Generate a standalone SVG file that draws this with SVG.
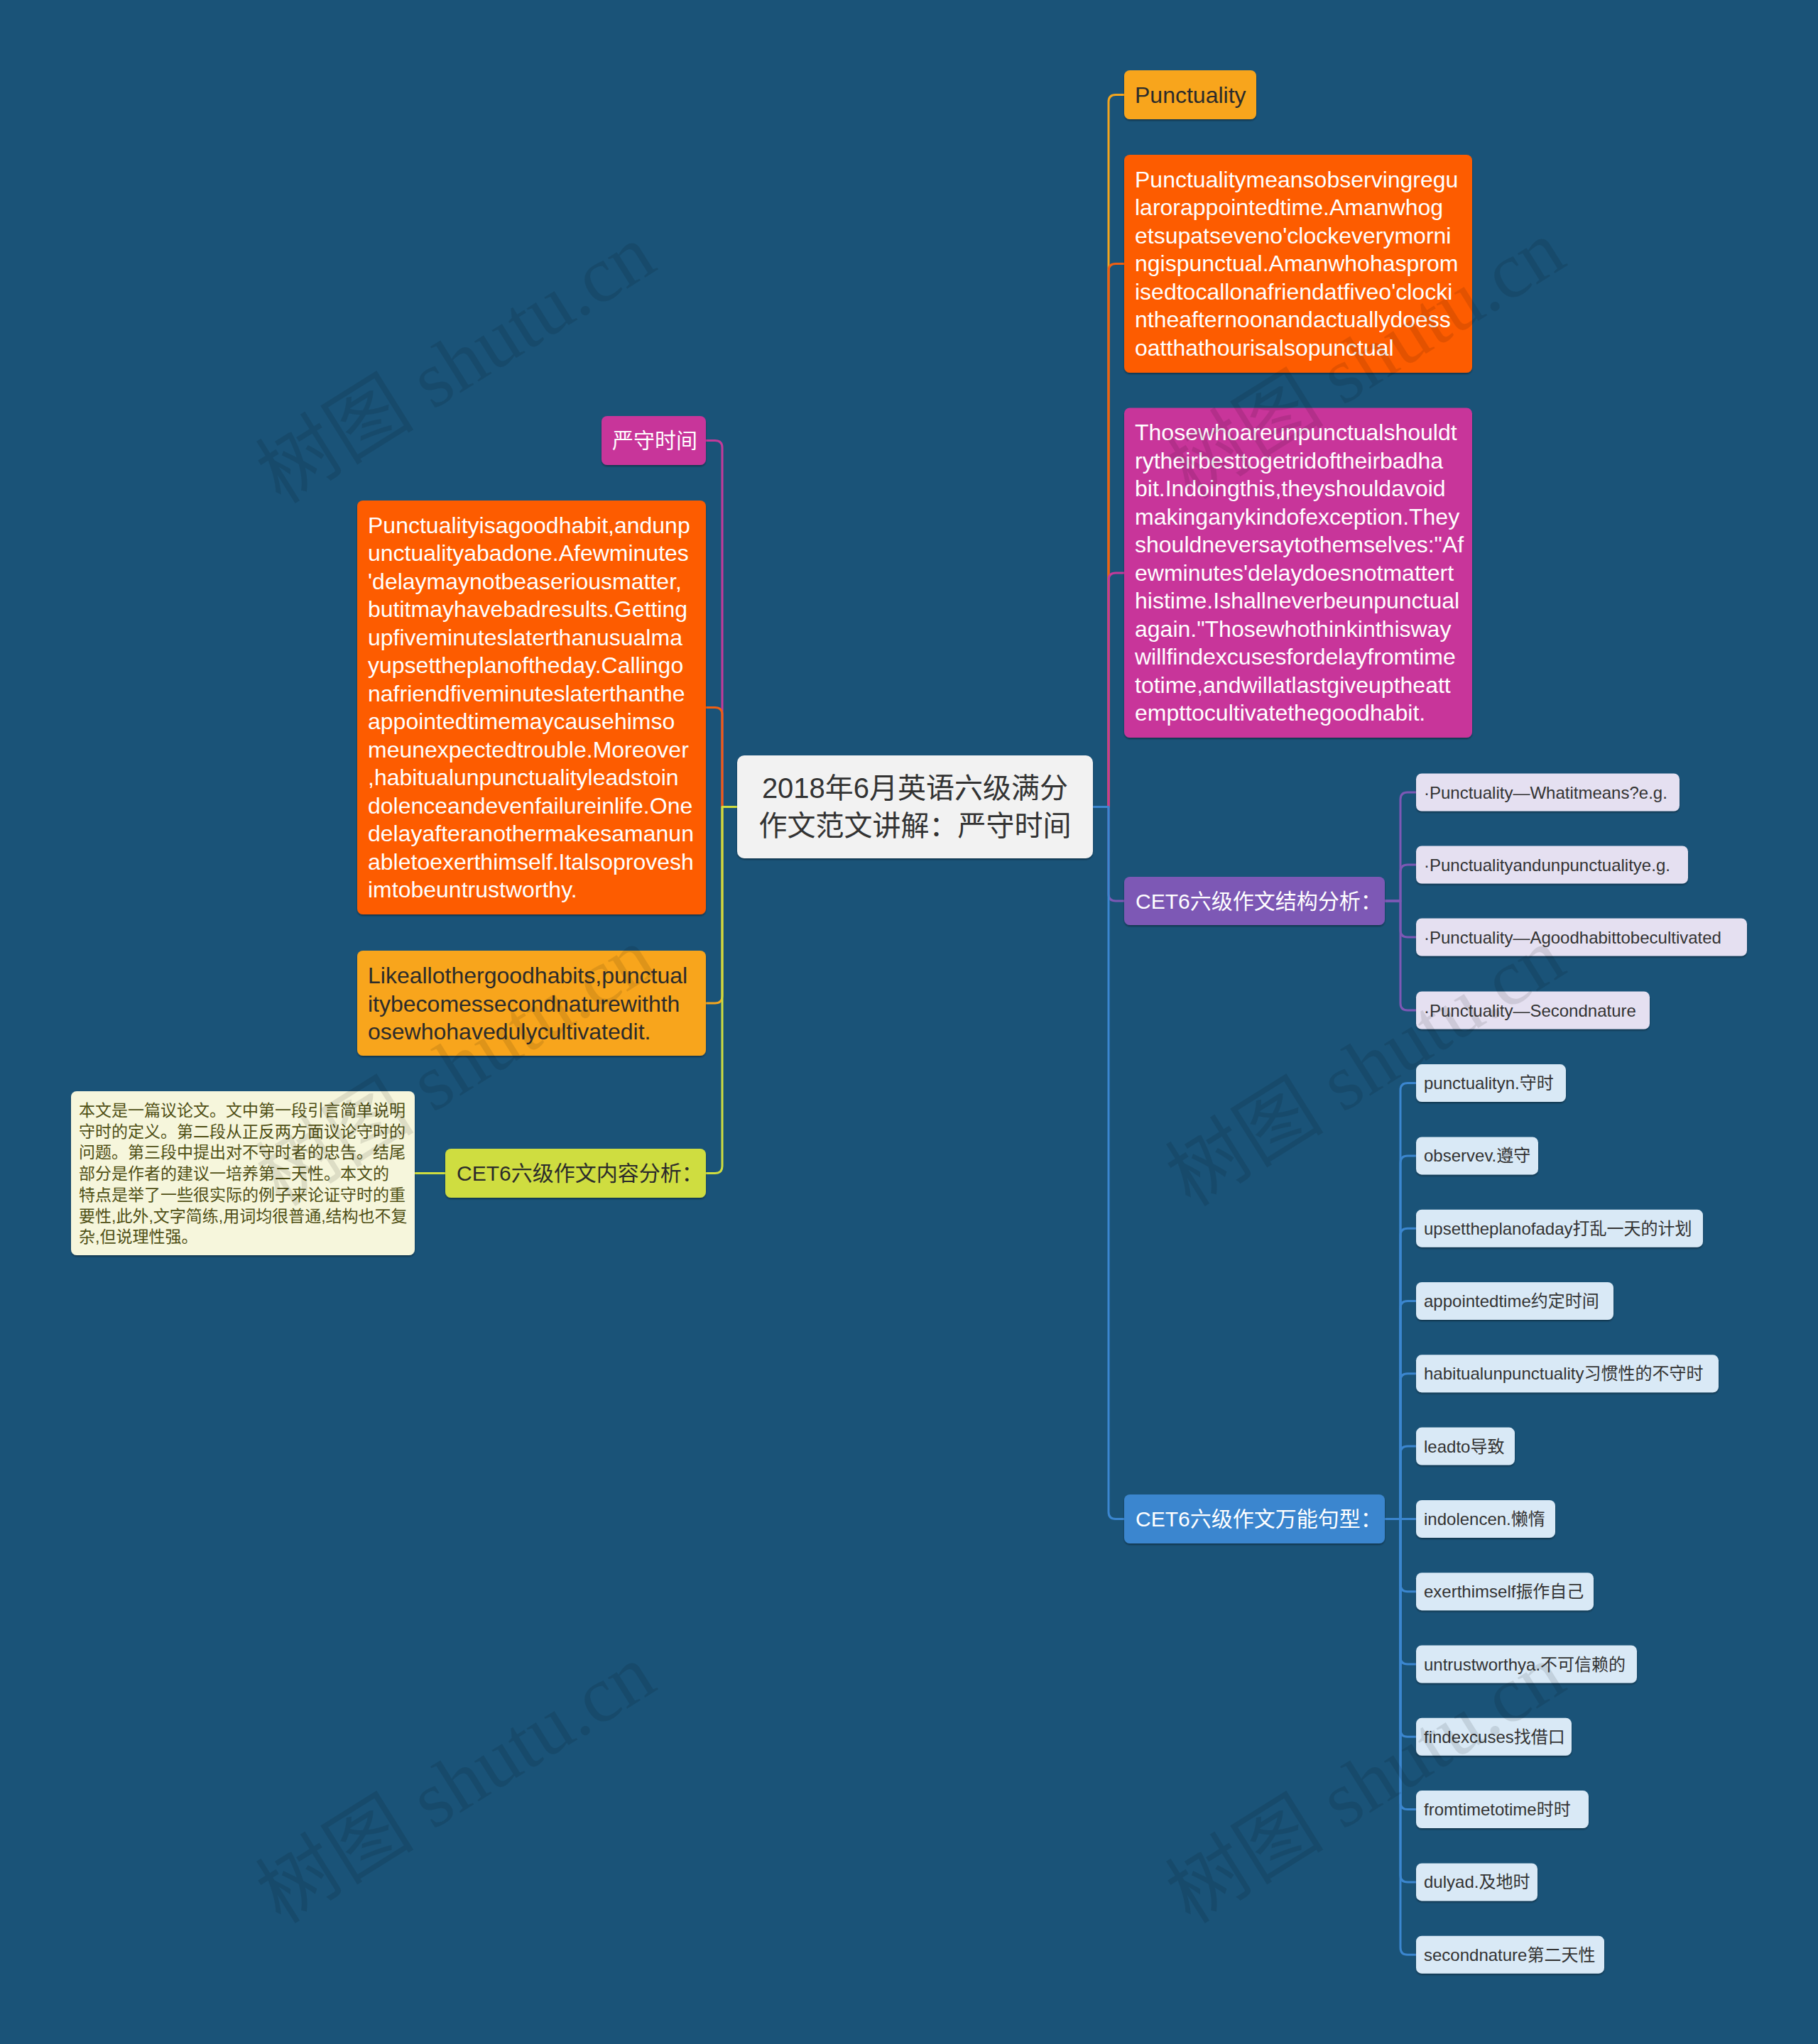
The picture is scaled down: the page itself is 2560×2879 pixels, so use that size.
<svg xmlns="http://www.w3.org/2000/svg" width="2560" height="2879" viewBox="0 0 2560 2879">
<defs>
<filter id="sh" x="-5%" y="-10%" width="110%" height="130%">
<feDropShadow dx="0" dy="2" stdDeviation="1.2" flood-color="#000" flood-opacity="0.35"/>
</filter>
<style>
.t{font-family:"Liberation Sans","Noto Sans CJK SC",sans-serif;dominant-baseline:central;}
.c{fill:none;stroke-width:3;stroke-linejoin:round;stroke-linecap:round;}
.wm{font-family:"Liberation Serif","Noto Sans CJK SC",serif;font-size:112px;fill:#000;fill-opacity:0.1;text-anchor:middle;}
.para{font-size:32px;}
.sm{font-size:24px;fill:#333;}
.h30{font-size:30px;}
.note{font-size:23px;fill:#4f4f14;}
</style>
</defs>
<rect x="0" y="0" width="2560" height="2879" fill="#1a5378"/>

<g id="connectors">
<path class="c" stroke="#f3a51f" d="M1539 1136.5 H1561 V143.5 Q1561 133.5 1571 133.5 H1583"/>
<path class="c" stroke="#f05f12" d="M1539 1136.5 H1561 V381.5 Q1561 371.5 1571 371.5 H1583"/>
<path class="c" stroke="#c43a9a" d="M1539 1136.5 H1561 V817 Q1561 807 1571 807 H1583"/>
<path class="c" stroke="#7d58b5" d="M1539 1136.5 H1561 V1259 Q1561 1269 1571 1269 H1583"/>
<path class="c" stroke="#3b86cf" d="M1539 1136.5 H1561 V2129.5 Q1561 2139.5 1571 2139.5 H1583"/>

<path class="c" stroke="#c43a9a" d="M1038 1136.5 H1017 V630.5 Q1017 620.5 1007 620.5 H994"/>
<path class="c" stroke="#f05f12" d="M1038 1136.5 H1017 V1006.5 Q1017 996.5 1007 996.5 H994"/>
<path class="c" stroke="#f3a51f" d="M1038 1136.5 H1017 V1403 Q1017 1413 1007 1413 H994"/>
<path class="c" stroke="#cfdd3f" d="M1038 1136.5 H1017 V1642.5 Q1017 1652.5 1007 1652.5 H994"/>
<path class="c" stroke="#cfdd3f" d="M627 1652.5 H584"/>

<path class="c" stroke="#7d58b5" d="M1950 1269 H1972 V1126 Q1972 1116 1982 1116 H1994"/>
<path class="c" stroke="#7d58b5" d="M1950 1269 H1972 V1228 Q1972 1218 1982 1218 H1994"/>
<path class="c" stroke="#7d58b5" d="M1950 1269 H1972 V1310 Q1972 1320 1982 1320 H1994"/>
<path class="c" stroke="#7d58b5" d="M1950 1269 H1972 V1413 Q1972 1423 1982 1423 H1994"/>

<path class="c" stroke="#3b86cf" d="M1950 2139.5 H1972 V1535.6 Q1972 1525.6 1982 1525.6 H1994"/>
<path class="c" stroke="#3b86cf" d="M1950 2139.5 H1972 V1637.9 Q1972 1627.9 1982 1627.9 H1994"/>
<path class="c" stroke="#3b86cf" d="M1950 2139.5 H1972 V1740.2 Q1972 1730.2 1982 1730.2 H1994"/>
<path class="c" stroke="#3b86cf" d="M1950 2139.5 H1972 V1842.5 Q1972 1832.5 1982 1832.5 H1994"/>
<path class="c" stroke="#3b86cf" d="M1950 2139.5 H1972 V1944.8 Q1972 1934.8 1982 1934.8 H1994"/>
<path class="c" stroke="#3b86cf" d="M1950 2139.5 H1972 V2047.1 Q1972 2037.1 1982 2037.1 H1994"/>
<path class="c" stroke="#3b86cf" d="M1950 2139.5 H1994"/>
<path class="c" stroke="#3b86cf" d="M1950 2139.5 H1972 V2231.7 Q1972 2241.7 1982 2241.7 H1994"/>
<path class="c" stroke="#3b86cf" d="M1950 2139.5 H1972 V2334 Q1972 2344 1982 2344 H1994"/>
<path class="c" stroke="#3b86cf" d="M1950 2139.5 H1972 V2436.3 Q1972 2446.3 1982 2446.3 H1994"/>
<path class="c" stroke="#3b86cf" d="M1950 2139.5 H1972 V2538.6 Q1972 2548.6 1982 2548.6 H1994"/>
<path class="c" stroke="#3b86cf" d="M1950 2139.5 H1972 V2640.9 Q1972 2650.9 1982 2650.9 H1994"/>
<path class="c" stroke="#3b86cf" d="M1950 2139.5 H1972 V2743.2 Q1972 2753.2 1982 2753.2 H1994"/>
</g>

<g id="root">
<rect x="1038" y="1064" width="501" height="145" rx="10" fill="#f2f2f2" filter="url(#sh)"/>
<text class="t" x="1288.5" y="1110" font-size="40" fill="#333" text-anchor="middle">2018年6月英语六级满分</text>
<text class="t" x="1288.5" y="1163" font-size="40" fill="#333" text-anchor="middle">作文范文讲解：严守时间</text>
</g>

<g id="n-punctuality">
<rect x="1583" y="99" width="186" height="69" rx="8" fill="#f8a51e" filter="url(#sh)"/>
<text class="t" x="1598" y="133.5" font-size="32" fill="#2b2b2b">Punctuality</text>
</g>

<g id="n-meaning">
<rect x="1583" y="218" width="490" height="307" rx="8" fill="#fd5b03" filter="url(#sh)"/>
<text class="t para" fill="#fff">
<tspan x="1598" y="252.8">Punctualitymeansobservingregu</tspan>
<tspan x="1598" y="292.3">larorappointedtime.Amanwhog</tspan>
<tspan x="1598" y="331.8">etsupatseveno'clockeverymorni</tspan>
<tspan x="1598" y="371.3">ngispunctual.Amanwhohasprom</tspan>
<tspan x="1598" y="410.8">isedtocallonafriendatfiveo'clocki</tspan>
<tspan x="1598" y="450.3">ntheafternoonandactuallydoess</tspan>
<tspan x="1598" y="489.8">oatthathourisalsopunctual</tspan>
</text>
</g>

<g id="n-advice">
<rect x="1583" y="574.5" width="490" height="464.5" rx="8" fill="#c8359a" filter="url(#sh)"/>
<text class="t para" fill="#fff">
<tspan x="1598" y="609.3">Thosewhoareunpunctualshouldt</tspan>
<tspan x="1598" y="648.8">rytheirbesttogetridoftheirbadha</tspan>
<tspan x="1598" y="688.3">bit.Indoingthis,theyshouldavoid</tspan>
<tspan x="1598" y="727.8">makinganykindofexception.They</tspan>
<tspan x="1598" y="767.3">shouldneversaytothemselves:"Af</tspan>
<tspan x="1598" y="806.8">ewminutes'delaydoesnotmattert</tspan>
<tspan x="1598" y="846.3">histime.Ishallneverbeunpunctual</tspan>
<tspan x="1598" y="885.8">again."Thosewhothinkinthisway</tspan>
<tspan x="1598" y="925.3">willfindexcusesfordelayfromtime</tspan>
<tspan x="1598" y="964.8">totime,andwillatlastgiveuptheatt</tspan>
<tspan x="1598" y="1004.3">empttocultivatethegoodhabit.</tspan>
</text>
</g>

<g id="n-structure">
<rect x="1583" y="1235" width="367" height="68" rx="8" fill="#7d58b5" filter="url(#sh)"/>
<text class="t h30" x="1599" y="1269" fill="#fff">CET6六级作文结构分析：</text>
</g>
<g id="n-s1"><rect x="1994" y="1089.5" width="371" height="53" rx="8" fill="#e5e0f1" filter="url(#sh)"/><text class="t sm" x="2005" y="1116">·Punctuality—Whatitmeans?e.g.</text></g>
<g id="n-s2"><rect x="1994" y="1191.5" width="383" height="53" rx="8" fill="#e5e0f1" filter="url(#sh)"/><text class="t sm" x="2005" y="1218">·Punctualityandunpunctualitye.g.</text></g>
<g id="n-s3"><rect x="1994" y="1293.5" width="466" height="53" rx="8" fill="#e5e0f1" filter="url(#sh)"/><text class="t sm" x="2005" y="1320">·Punctuality—Agoodhabittobecultivated</text></g>
<g id="n-s4"><rect x="1994" y="1396.5" width="329" height="53" rx="8" fill="#e5e0f1" filter="url(#sh)"/><text class="t sm" x="2005" y="1423">·Punctuality—Secondnature</text></g>

<g id="n-phrases">
<rect x="1583" y="2105" width="367" height="69" rx="8" fill="#3b86cf" filter="url(#sh)"/>
<text class="t h30" x="1599" y="2139.5" fill="#fff">CET6六级作文万能句型：</text>
</g>
<g id="n-p1"><rect x="1994" y="1499.1" width="211" height="53" rx="8" fill="#d9e9f6" filter="url(#sh)"/><text class="t sm" x="2005" y="1525.6">punctualityn.守时</text></g>
<g id="n-p2"><rect x="1994" y="1601.4" width="172" height="53" rx="8" fill="#d9e9f6" filter="url(#sh)"/><text class="t sm" x="2005" y="1627.9">observev.遵守</text></g>
<g id="n-p3"><rect x="1994" y="1703.7" width="404" height="53" rx="8" fill="#d9e9f6" filter="url(#sh)"/><text class="t sm" x="2005" y="1730.2">upsettheplanofaday打乱一天的计划</text></g>
<g id="n-p4"><rect x="1994" y="1806" width="278" height="53" rx="8" fill="#d9e9f6" filter="url(#sh)"/><text class="t sm" x="2005" y="1832.5">appointedtime约定时间</text></g>
<g id="n-p5"><rect x="1994" y="1908.3" width="426" height="53" rx="8" fill="#d9e9f6" filter="url(#sh)"/><text class="t sm" x="2005" y="1934.8">habitualunpunctuality习惯性的不守时</text></g>
<g id="n-p6"><rect x="1994" y="2010.6" width="139" height="53" rx="8" fill="#d9e9f6" filter="url(#sh)"/><text class="t sm" x="2005" y="2037.1">leadto导致</text></g>
<g id="n-p7"><rect x="1994" y="2112.9" width="196" height="53" rx="8" fill="#d9e9f6" filter="url(#sh)"/><text class="t sm" x="2005" y="2139.4">indolencen.懒惰</text></g>
<g id="n-p8"><rect x="1994" y="2215.2" width="250" height="53" rx="8" fill="#d9e9f6" filter="url(#sh)"/><text class="t sm" x="2005" y="2241.7">exerthimself振作自己</text></g>
<g id="n-p9"><rect x="1994" y="2317.5" width="311" height="53" rx="8" fill="#d9e9f6" filter="url(#sh)"/><text class="t sm" x="2005" y="2344">untrustworthya.不可信赖的</text></g>
<g id="n-p10"><rect x="1994" y="2419.8" width="219" height="53" rx="8" fill="#d9e9f6" filter="url(#sh)"/><text class="t sm" x="2005" y="2446.3">findexcuses找借口</text></g>
<g id="n-p11"><rect x="1994" y="2522.1" width="243" height="53" rx="8" fill="#d9e9f6" filter="url(#sh)"/><text class="t sm" x="2005" y="2548.6">fromtimetotime时时</text></g>
<g id="n-p12"><rect x="1994" y="2624.4" width="171" height="53" rx="8" fill="#d9e9f6" filter="url(#sh)"/><text class="t sm" x="2005" y="2650.9">dulyad.及地时</text></g>
<g id="n-p13"><rect x="1994" y="2726.7" width="265" height="53" rx="8" fill="#d9e9f6" filter="url(#sh)"/><text class="t sm" x="2005" y="2753.2">secondnature第二天性</text></g>

<g id="n-title">
<rect x="847" y="586" width="147" height="69" rx="8" fill="#c8359a" filter="url(#sh)"/>
<text class="t h30" x="862" y="620.5" fill="#fff">严守时间</text>
</g>

<g id="n-habit">
<rect x="503" y="705" width="491" height="583" rx="8" fill="#fd5b03" filter="url(#sh)"/>
<text class="t para" fill="#fff">
<tspan x="518" y="739.8">Punctualityisagoodhabit,andunp</tspan>
<tspan x="518" y="779.3">unctualityabadone.Afewminutes</tspan>
<tspan x="518" y="818.8">'delaymaynotbeaseriousmatter,</tspan>
<tspan x="518" y="858.3">butitmayhavebadresults.Getting</tspan>
<tspan x="518" y="897.8">upfiveminuteslaterthanusualma</tspan>
<tspan x="518" y="937.3">yupsettheplanoftheday.Callingo</tspan>
<tspan x="518" y="976.8">nafriendfiveminuteslaterthanthe</tspan>
<tspan x="518" y="1016.3">appointedtimemaycausehimso</tspan>
<tspan x="518" y="1055.8">meunexpectedtrouble.Moreover</tspan>
<tspan x="518" y="1095.3">,habitualunpunctualityleadstoin</tspan>
<tspan x="518" y="1134.8">dolenceandevenfailureinlife.One</tspan>
<tspan x="518" y="1174.3">delayafteranothermakesamanun</tspan>
<tspan x="518" y="1213.8">abletoexerthimself.Italsoprovesh</tspan>
<tspan x="518" y="1253.3">imtobeuntrustworthy.</tspan>
</text>
</g>

<g id="n-second">
<rect x="503" y="1339" width="491" height="148" rx="8" fill="#f8a51e" filter="url(#sh)"/>
<text class="t para" fill="#2b2b2b">
<tspan x="518" y="1374">Likeallothergoodhabits,punctual</tspan>
<tspan x="518" y="1413.5">itybecomessecondnaturewithth</tspan>
<tspan x="518" y="1453">osewhohavedulycultivatedit.</tspan>
</text>
</g>

<g id="n-content">
<rect x="627" y="1618" width="367" height="69" rx="8" fill="#cfdd3f" filter="url(#sh)"/>
<text class="t h30" x="643" y="1652.5" fill="#2b2b2b">CET6六级作文内容分析：</text>
</g>

<g id="n-note">
<rect x="100" y="1537" width="484" height="231" rx="8" fill="#f6f6dc" filter="url(#sh)"/>
<text class="t note">
<tspan x="111" y="1564">本文是一篇议论文。文中第一段引言简单说明</tspan>
<tspan x="111" y="1593.7">守时的定义。第二段从正反两方面议论守时的</tspan>
<tspan x="111" y="1623.4">问题。第三段中提出对不守时者的忠告。结尾</tspan>
<tspan x="111" y="1653.1">部分是作者的建议一培养第二天性。本文的</tspan>
<tspan x="111" y="1682.8">特点是举了一些很实际的例子来论证守时的重</tspan>
<tspan x="111" y="1712.5">要性,此外,文字简练,用词均很普通,结构也不复</tspan>
<tspan x="111" y="1742.2">杂,但说理性强。</tspan>
</text>
</g>

<g id="watermark">
<text class="wm" x="644" y="550" transform="rotate(-32 644 516)">树图 shutu.cn</text>
<text class="wm" x="1925" y="544" transform="rotate(-32 1925 510)">树图 shutu.cn</text>
<text class="wm" x="644" y="1540" transform="rotate(-32 644 1506)">树图 shutu.cn</text>
<text class="wm" x="1925" y="1540" transform="rotate(-32 1925 1506)">树图 shutu.cn</text>
<text class="wm" x="644" y="2550" transform="rotate(-32 644 2516)">树图 shutu.cn</text>
<text class="wm" x="1925" y="2550" transform="rotate(-32 1925 2516)">树图 shutu.cn</text>
</g>
</svg>
